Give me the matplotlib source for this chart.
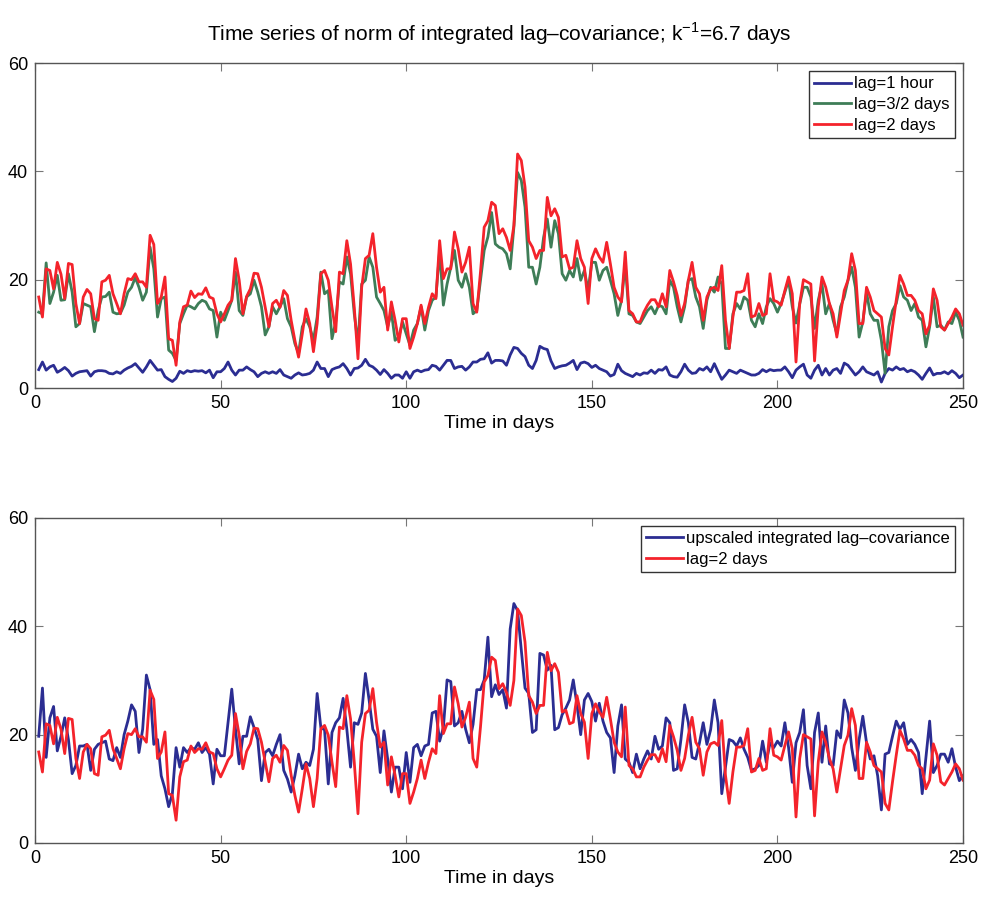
import numpy as np
import matplotlib
matplotlib.use("Agg")
import matplotlib.pyplot as plt

# ---- data (one value per day, days 1..250) ----
days = np.arange(1, 251)

lag_2d = [
    16.8, 13.1, 22.0, 21.7, 18.3, 23.2, 21.0, 16.5, 23.0, 22.8,
    15.6, 11.9, 16.8, 18.2, 17.4, 12.8, 12.5, 19.6, 19.9, 20.8,
    17.4, 15.6, 13.7, 17.4, 20.2, 20.0, 21.1, 19.6, 19.6, 18.6,
    28.2, 26.5, 15.6, 16.8, 20.5, 9.1, 8.8, 4.2, 12.2, 15.0,
    15.3, 17.9, 16.7, 17.4, 17.3, 18.5, 16.8, 16.5, 13.7, 12.2,
    13.7, 15.3, 16.2, 23.9, 19.9, 13.7, 16.9, 18.3, 21.2, 21.1,
    18.6, 15.0, 11.3, 15.6, 16.2, 14.9, 18.0, 17.1, 12.5, 8.8,
    5.7, 10.0, 14.6, 11.9, 6.7, 11.9, 21.1, 21.7, 19.9, 14.9,
    10.4, 21.4, 21.1, 27.2, 22.9, 14.9, 5.4, 18.6, 23.9, 24.5,
    28.5, 22.3, 17.7, 18.6, 10.7, 15.9, 12.5, 8.5, 12.8, 12.8,
    7.3, 9.4, 11.9, 15.3, 11.9, 14.9, 17.4, 16.5, 27.2, 20.2,
    22.0, 22.0, 28.8, 25.7, 21.4, 23.2, 26.0, 15.6, 14.0, 21.4,
    29.7, 30.9, 34.3, 33.7, 28.5, 29.4, 27.8, 25.4, 30.0, 43.2,
    42.0, 37.1, 27.2, 26.0, 23.9, 25.4, 25.4, 35.2, 31.8, 33.1,
    31.5, 24.2, 24.5, 22.0, 22.3, 27.2, 23.9, 22.3, 15.6, 23.9,
    25.7, 24.2, 23.2, 26.9, 22.9, 18.6, 16.8, 15.9, 25.1, 14.3,
    13.7, 12.2, 12.2, 14.0, 15.3, 16.3, 16.3, 15.0, 17.4, 15.0,
    21.7, 19.6, 17.1, 13.4, 15.6, 19.9, 23.2, 18.6, 17.4, 12.5,
    16.8, 18.3, 18.6, 18.0, 22.6, 12.5, 7.3, 13.1, 17.7, 17.7,
    18.0, 21.1, 13.1, 13.4, 15.6, 13.4, 13.7, 21.1, 16.2, 15.9,
    15.3, 18.0, 20.5, 17.4, 4.8, 15.6, 20.0, 19.6, 19.2, 5.0,
    15.0, 20.5, 18.6, 15.6, 13.7, 9.4, 13.7, 18.0, 19.9, 24.8,
    21.7, 11.9, 11.9, 18.6, 16.8, 14.3, 13.7, 13.1, 7.3, 6.1,
    11.3, 16.2, 20.8, 19.2, 17.1, 17.1, 16.2, 14.3, 13.7, 10.0,
    11.6, 18.3, 16.2, 11.3, 10.7, 11.9, 13.1, 14.6, 13.7, 11.6,
]

lag_32d = [
    14.0, 13.7, 23.1, 15.6, 17.7, 20.8, 16.2, 16.3, 21.1, 17.7,
    11.3, 11.9, 15.6, 15.3, 15.0, 10.4, 14.3, 16.8, 16.9, 17.7,
    14.0, 13.7, 13.8, 15.3, 17.7, 18.6, 20.4, 18.6, 16.2, 17.7,
    26.0, 22.0, 13.1, 16.5, 16.8, 7.0, 6.4, 5.1, 11.9, 13.7,
    15.3, 15.0, 14.6, 15.6, 16.2, 15.9, 14.6, 14.3, 9.4, 14.0,
    12.5, 14.3, 16.2, 21.4, 14.3, 13.4, 16.8, 17.4, 19.9, 17.7,
    15.0, 9.8, 11.3, 15.0, 13.7, 15.0, 16.5, 12.8, 11.3, 8.2,
    6.4, 11.3, 12.8, 11.3, 8.8, 13.1, 21.4, 17.4, 18.0, 9.1,
    12.2, 19.6, 19.2, 24.2, 21.1, 13.7, 8.2, 19.2, 19.9, 24.2,
    22.3, 16.8, 15.6, 14.3, 11.3, 14.0, 8.8, 9.4, 12.2, 10.0,
    7.9, 10.7, 11.9, 15.0, 10.7, 14.3, 16.2, 16.8, 25.4, 15.3,
    19.2, 22.3, 25.4, 19.9, 18.6, 21.1, 18.6, 13.7, 14.3, 19.9,
    25.4, 27.9, 32.4, 26.6, 26.0, 25.7, 24.8, 22.0, 29.7, 39.8,
    38.3, 33.4, 22.3, 22.3, 19.2, 22.3, 27.8, 31.2, 26.0, 30.9,
    28.5, 21.1, 19.9, 21.7, 20.5, 23.9, 19.9, 21.7, 18.0, 23.2,
    23.2, 19.9, 21.7, 22.3, 19.9, 17.4, 13.4, 16.2, 22.9, 13.7,
    13.4, 12.2, 11.9, 13.1, 14.3, 15.0, 13.7, 15.3, 15.0, 13.7,
    19.9, 18.6, 15.0, 12.2, 15.0, 19.9, 20.2, 16.8, 15.0, 11.0,
    16.2, 18.6, 17.7, 20.5, 19.2, 7.3, 7.3, 13.7, 15.6, 14.6,
    16.8, 16.2, 12.5, 11.3, 13.7, 11.9, 15.0, 16.5, 15.6, 14.0,
    15.6, 17.7, 19.9, 15.0, 12.0, 15.5, 18.6, 18.6, 16.8, 11.0,
    16.2, 19.2, 13.7, 15.6, 12.5, 10.0, 15.0, 16.8, 19.9, 22.3,
    18.6, 9.4, 12.2, 17.7, 13.7, 12.5, 12.5, 8.8, 2.7, 11.3,
    14.3, 15.6, 18.9, 16.8, 16.2, 14.3, 15.6, 13.1, 12.5, 7.6,
    11.3, 16.8, 11.3, 11.6, 10.7, 12.2, 11.9, 14.0, 12.5, 9.4,
]

lag_1h = [
    3.4, 4.8, 3.3, 3.9, 4.2, 2.9, 3.3, 3.8, 3.2, 2.2,
    2.7, 3.0, 3.1, 3.2, 2.2, 3.0, 3.2, 3.2, 3.1, 2.7,
    2.6, 3.0, 2.7, 3.3, 3.7, 4.0, 4.5, 3.7, 2.9, 3.9,
    5.1, 4.2, 3.3, 3.4, 2.1, 1.6, 1.2, 1.8, 3.1, 2.7,
    3.2, 3.0, 3.2, 3.1, 3.2, 2.8, 3.3, 1.9, 3.0, 3.0,
    3.6, 4.8, 3.3, 2.4, 3.3, 3.3, 3.9, 3.4, 3.0, 2.1,
    2.7, 3.0, 2.7, 3.0, 2.7, 3.4, 2.4, 2.1, 1.8, 2.4,
    2.8, 2.4, 2.5, 2.7, 3.3, 4.8, 3.6, 3.6, 2.1, 3.4,
    3.7, 3.9, 4.5, 3.6, 2.4, 3.6, 3.7, 4.2, 5.3, 4.2,
    3.9, 3.3, 2.5, 3.4, 2.7, 1.8, 2.4, 2.4, 1.8, 3.0,
    1.8, 3.0, 3.3, 3.0, 3.3, 3.4, 4.2, 4.0, 3.3, 4.2,
    5.1, 5.1, 3.6, 3.9, 4.0, 3.3, 3.9, 4.8, 4.8, 5.3,
    5.4, 6.5, 4.6, 5.1, 5.1, 5.0, 4.2, 6.1, 7.5, 7.3,
    6.4, 5.8, 4.2, 3.6, 5.1, 7.7, 7.3, 7.1, 5.0, 3.6,
    3.9, 4.1, 4.2, 4.6, 5.1, 3.4, 4.6, 4.8, 4.5, 3.8,
    4.2, 3.6, 3.3, 3.0, 2.2, 2.5, 4.4, 3.2, 2.7, 2.4,
    2.1, 2.7, 2.4, 2.8, 2.7, 3.3, 2.7, 3.4, 3.3, 3.9,
    2.4, 2.1, 2.0, 3.0, 4.4, 3.3, 2.7, 2.8, 3.6, 3.3,
    3.9, 3.0, 4.5, 3.0, 1.6, 2.4, 3.3, 3.0, 2.7, 3.3,
    3.0, 2.7, 2.4, 2.4, 2.7, 3.4, 3.0, 3.4, 3.2, 3.3,
    3.3, 3.9, 3.0, 1.9, 3.3, 3.9, 4.4, 2.4, 1.8, 3.3,
    4.2, 2.4, 3.6, 2.4, 3.3, 3.6, 2.7, 4.6, 4.2, 3.3,
    2.4, 3.0, 3.9, 3.0, 2.7, 2.4, 3.0, 1.1, 2.7, 3.6,
    3.3, 3.9, 3.4, 3.6, 3.0, 3.3, 3.0, 2.4, 1.6, 2.7,
    3.7, 2.4, 2.7, 2.7, 3.0, 2.6, 3.2, 2.7, 1.9, 2.4,
]

upscaled = [
    19.7, 28.6, 15.8, 23.1, 25.2, 17.0, 19.7, 23.1, 19.1, 12.8,
    14.3, 17.9, 17.9, 18.2, 13.4, 17.3, 18.2, 18.5, 18.8, 15.5,
    15.2, 17.6, 15.8, 20.0, 22.5, 25.5, 24.3, 16.7, 21.0, 31.0,
    28.3, 18.2, 19.1, 12.4, 10.0, 6.7, 9.1, 17.6, 14.0, 17.6,
    16.7, 17.6, 17.3, 18.5, 16.7, 17.6, 16.4, 10.9, 17.3, 16.1,
    16.1, 22.2, 28.4, 21.0, 14.6, 19.7, 19.7, 23.3, 21.3, 19.1,
    11.5, 16.7, 17.3, 16.1, 18.2, 20.0, 13.4, 11.8, 9.4, 12.4,
    16.4, 13.7, 14.9, 14.3, 17.3, 27.6, 21.3, 20.9, 10.9, 20.4,
    22.2, 23.1, 26.7, 21.0, 14.0, 22.2, 21.9, 24.0, 31.3, 26.4,
    21.0, 19.7, 13.0, 20.7, 15.5, 9.4, 14.0, 14.0, 10.0, 16.7,
    11.2, 17.6, 18.2, 16.1, 17.9, 18.2, 24.0, 24.3, 18.8, 21.3,
    30.1, 29.8, 21.6, 22.2, 24.3, 21.0, 18.5, 21.9, 28.3, 28.3,
    30.1, 38.0, 27.0, 29.2, 27.4, 28.3, 24.9, 39.5, 44.2, 42.9,
    35.6, 28.6, 27.6, 20.4, 20.9, 35.0, 34.7, 31.9, 32.8, 20.9,
    21.3, 23.7, 24.9, 26.4, 30.1, 25.5, 20.0, 26.4, 27.6, 26.1,
    22.5, 25.8, 22.5, 20.4, 19.4, 13.0, 21.6, 25.5, 15.5, 14.9,
    13.0, 16.4, 13.7, 15.5, 17.0, 15.5, 19.7, 17.3, 17.9, 23.1,
    22.2, 13.4, 13.7, 19.1, 25.5, 22.2, 15.8, 15.5, 18.5, 22.2,
    18.2, 20.9, 26.4, 22.2, 9.1, 14.0, 19.1, 18.8, 17.9, 19.4,
    17.3, 15.8, 13.4, 13.7, 14.3, 18.8, 14.9, 18.5, 17.6, 18.8,
    17.9, 22.2, 17.6, 11.2, 18.5, 20.4, 24.6, 14.3, 10.0, 20.4,
    24.0, 14.9, 21.6, 14.6, 14.3, 20.7, 19.4, 26.4, 24.0, 17.6,
    13.4, 19.1, 23.4, 18.5, 15.5, 16.1, 12.4, 6.1, 16.4, 16.7,
    19.7, 22.5, 21.0, 22.2, 18.2, 19.1, 18.2, 16.7, 9.1, 15.8,
    22.5, 13.0, 14.3, 16.4, 16.4, 14.9, 17.4, 14.0, 11.5, 12.4,
]

BLUE = '#2b2d92'
GREEN = '#3e7d57'
RED = '#f4232b'

plt.rcParams['font.family'] = ['Liberation Sans', 'DejaVu Sans']
plt.rcParams['mathtext.fontset'] = 'custom'
plt.rcParams['mathtext.rm'] = 'Liberation Sans'


def style_axes(ax):
    ax.set_xlim(0, 250)
    ax.set_ylim(0, 60)
    ax.set_xticks([0, 50, 100, 150, 200, 250])
    ax.set_yticks([0, 20, 40, 60])
    ax.tick_params(direction='in', top=True, right=True, length=6,
                   color='#777777', labelsize=13, pad=5)
    for s in ax.spines.values():
        s.set_color('#555555')
        s.set_linewidth(1.0)
    ax.set_xlabel('Time in days', fontsize=14, labelpad=2)


def add_legend(ax):
    leg = ax.legend(loc='upper right', fontsize=12, handlelength=2.2, handletextpad=0.2,
                    borderpad=0.3, labelspacing=0.35, borderaxespad=0.5,
                    fancybox=False, framealpha=1)
    leg.get_frame().set_edgecolor('#333333')


fig = plt.figure(figsize=(9.81, 9.07), dpi=100)
ax1 = fig.add_axes([0.0357, 0.5722, 0.946, 0.3583])
ax2 = fig.add_axes([0.0357, 0.0706, 0.946, 0.3583])

lw = 2.0
ax1.plot(days, lag_1h, color=BLUE, lw=lw, label='lag=1 hour')
ax1.plot(days, lag_32d, color=GREEN, lw=lw, label='lag=3/2 days')
ax1.plot(days, lag_2d, color=RED, lw=lw, label='lag=2 days')
style_axes(ax1)
ax1.set_title('Time series of norm of integrated lag\u2013covariance; k$^{-1}$=6.7 days',
              fontsize=15, pad=16)
add_legend(ax1)

ax2.plot(days, upscaled, color=BLUE, lw=lw, label='upscaled integrated lag\u2013covariance')
ax2.plot(days, lag_2d, color=RED, lw=lw, label='lag=2 days')
style_axes(ax2)
add_legend(ax2)

fig.savefig('out.png', dpi=100)
